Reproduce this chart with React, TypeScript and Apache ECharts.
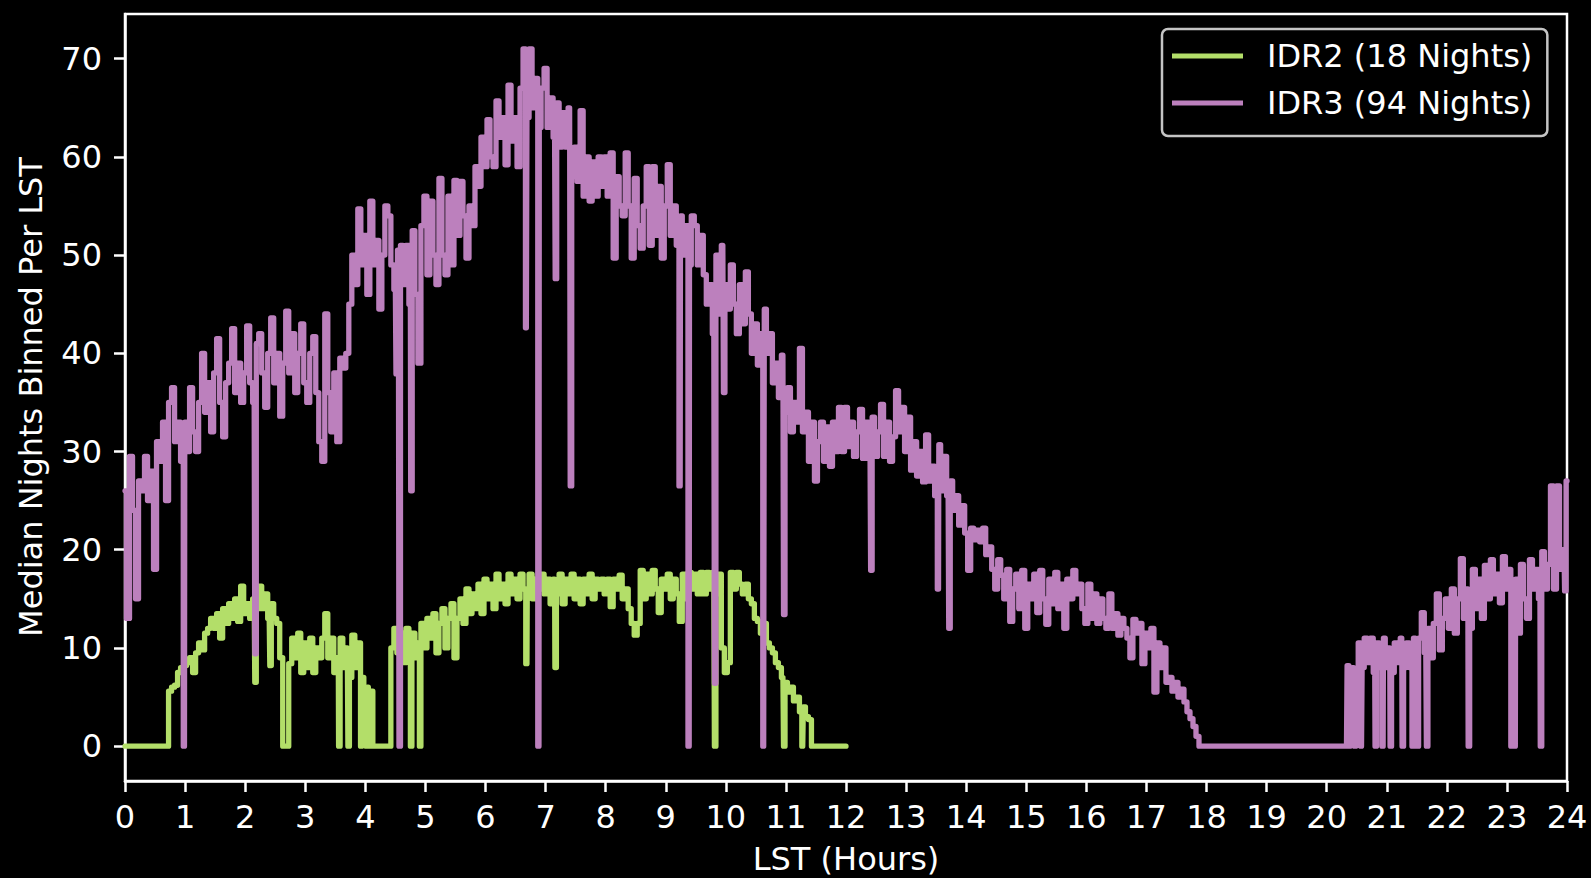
import React, { useEffect, useRef } from "react";
import * as echarts from "echarts";

// ---- Data (median nights binned per LST), sampled every 0.05 h ----
const STEP = 0.05;

const idr2Hours00to04 = [
  0, 0, 0, 0, 0, 0, 0, 0, 0, 0, 0, 0, 0, 0, 0, 5.6, 6, 6.2, 7.5, 8,
  8.2, 8.5, 9, 7.5, 9.5, 10.5, 9.8, 11.5, 12, 13, 12, 13.5, 11, 14, 12.5, 14.5, 13, 15, 12.7, 16.3,
  13.5, 14.5, 13, 15, 14, 16.3, 14, 15.5, 13, 14.5, 13, 12.5, 9, 0, 0, 8.4, 11, 9, 11.5, 7.5,
  10.5, 8, 11, 7.5, 10, 9, 11, 13.5, 9, 11, 7.5, 9, 11, 8, 10, 7, 11.3, 8, 10.5, 7,
];
const idr2Hours04to08 = [
  5.6, 6, 5.6, 0, 0, 0, 0, 0, 0, 10, 12, 9.5, 11.5, 8.5, 12, 10, 11.5, 9, 10.5, 12.5,
  10, 13, 11, 13.5, 9.5, 12.5, 14, 10, 13, 14.5, 9, 13, 15, 12.5, 16, 13.5, 15.5, 14, 16.5, 13.5,
  17, 15, 16.5, 14, 17.5, 15, 16.5, 14.5, 17.5, 15.5, 17, 15, 17.5, 16, 15.5, 17.5, 15, 17, 16, 17.5,
  15.5, 17, 14.5, 17, 15.5, 17.5, 14.5, 17, 15.5, 17.5, 15, 17, 14.5, 17, 15.5, 17.5, 15, 17, 16, 17,
];
const idr2Hours08to12 = [
  15.5, 17, 14.2, 17, 16, 17.4, 15, 16, 14, 12.5, 11.3, 12.5, 17.9, 15, 17.5, 15.5, 17.9, 16, 13.6, 17,
  16, 17.5, 15, 17, 15.5, 12.7, 17.5, 15, 17.7, 16, 17.5, 15.5, 17.7, 15.5, 17.7, 16, 17.7, 15.5, 17.5, 10,
  7.5, 8.5, 17.7, 16, 17.7, 16.5, 15.5, 16.5, 15, 14.5, 13, 12.7, 11.5, 12.5, 10.5, 10, 9.5, 8.5, 8, 7,
  6.5, 5.5, 6, 4.6, 5, 3.5, 4, 3, 2.7, 0, 0, 0, 0, 0, 0, 0, 0, 0, 0, 0,
];
const idr2End: [number, number] = [12, 0];
const idr2Spikes: [number, number][] = [
  [2.17, 6.5], [2.42, 8.2], [3.56, 0], [3.72, 0], [3.94, 0], [4.02, 0], [4.07, 0],
  [4.75, 0], [4.9, 0], [6.69, 8.4], [7.16, 8], [9.82, 0], [10.97, 0], [11.28, 0],
];

const idr3Hours00to04 = [
  26, 13, 29.5, 24, 15, 27, 26, 29.5, 25, 28, 18, 31, 29, 33, 25, 35, 36.5, 31, 33, 29,
  33, 30, 36.5, 32, 30, 35, 40, 34, 37, 32, 38, 41.5, 35, 31.5, 37, 39, 42.5, 36, 39, 35,
  38, 42.8, 37, 35, 41, 42, 38, 34.5, 40, 43.6, 37, 40, 33.6, 39, 44.3, 38, 42, 36, 40, 43,
  37, 35, 40, 41.7, 36, 31, 29, 44, 36, 32, 38, 31, 39.5, 38.5, 40, 45, 50, 47, 54.7, 49,
];
const idr3Hours04to08 = [
  52, 46, 55.5, 49, 51.5, 44.5, 50, 55, 54, 49, 46.5, 50.5, 51, 47, 51, 45, 52.5, 46, 39, 53,
  56, 48, 55.5, 50, 47, 57.8, 50, 48, 56, 49, 57.6, 52, 57.5, 54, 49.7, 55, 53, 59, 57, 62,
  59, 63.8, 60, 59, 65.7, 62, 64, 59.2, 67.3, 61.6, 64, 59, 67, 71, 64, 71, 65, 68, 63, 67,
  69, 63, 66, 62, 65.5, 61, 64.5, 61, 65, 58, 61, 57.5, 64.7, 56, 60, 55.5, 59.5, 56, 60, 57,
];
const idr3Hours08to12 = [
  60, 56, 60.4, 49.7, 58, 55, 54, 60.4, 55, 49.7, 57.8, 53, 50.7, 55, 59, 51, 59, 52, 57, 49.7,
  55, 59.2, 52, 55, 51, 54, 50, 53, 49, 54, 53, 49, 52, 48, 45, 47, 42, 50, 44, 51,
  47, 44.5, 49, 45, 42, 47, 43, 48.3, 44, 40, 43, 38.8, 42, 44.5, 40, 42, 37, 39, 35.5, 39.8,
  34, 36.5, 32, 35, 33, 40.5, 32, 34, 29, 33, 27, 31, 33, 29, 32.5, 28.5, 33, 30, 34.5, 30,
];
const idr3Hours12to16 = [
  34.5, 30.5, 33, 29.5, 32, 34.3, 29.3, 33, 30, 33.5, 29.5, 32, 34.8, 29.5, 33, 29, 31.5, 36.2, 32, 34.5,
  30, 33.5, 28.1, 31, 27.5, 30, 26.9, 31.7, 27, 28.5, 25.5, 30.7, 26, 29.5, 25.5, 27, 24, 25.5, 22.5, 24.5,
  21.7, 17.9, 22.2, 21, 22, 20.8, 22.2, 19.5, 20.3, 18, 16, 19, 17.4, 15, 18, 12.7, 16, 17.5, 14, 17.9,
  12, 16.5, 15, 17.5, 13.6, 17.9, 15, 12.4, 17, 14.5, 17.7, 14, 16.5, 12, 17, 15, 17.9, 15.5, 16.5, 14,
];
const idr3Hours16to20 = [
  12.5, 16.5, 13, 15.5, 12.5, 15, 13, 12, 15.5, 12, 13.5, 11.3, 13, 12, 11, 9, 12.9, 11.5, 12.5, 8.4,
  11.5, 10, 12, 5.5, 10.5, 8, 10, 6.5, 7, 5.6, 6.5, 5, 5.8, 4.5, 3.5, 2.8, 2, 1, 0, 0,
  0, 0, 0, 0, 0, 0, 0, 0, 0, 0, 0, 0, 0, 0, 0, 0, 0, 0, 0, 0,
  0, 0, 0, 0, 0, 0, 0, 0, 0, 0, 0, 0, 0, 0, 0, 0, 0, 0, 0, 0,
];
const idr3Hours20to24 = [
  0, 0, 0, 0, 0, 0, 0, 8.2, 7, 8, 7.5, 10.5, 8, 11, 8.5, 11, 7.5, 10.5, 8, 11,
  8, 10, 7.5, 10.5, 8.5, 11, 8, 10.5, 8, 11, 7.5, 11, 13.6, 9.5, 12, 9, 12.5, 15.5, 9.8, 13,
  15, 12, 16, 11.5, 15, 19.1, 13, 16, 12, 18, 14, 17, 13, 18.4, 15, 19, 15.5, 17.5, 14.6, 19.3,
  16, 18, 15, 17, 11.5, 18.5, 15, 13, 19, 16, 18, 15, 19.8, 16, 18.5, 26.5, 16, 26.5, 18, 20,
];
const idr3End: [number, number] = [24, 27];
const idr3Spikes: [number, number][] = [
  [0.99, 0], [2.17, 9.4], [4.52, 37.9], [4.57, 0], [4.76, 26], [6.68, 42.6], [6.89, 0],
  [7.17, 47.6], [7.42, 26.5], [9.24, 26.5], [9.39, 0], [9.82, 6.4], [9.97, 36], [10.63, 0],
  [10.97, 13.4], [12.42, 17.9], [13.54, 16], [13.72, 12], [20.33, 0], [20.39, 0], [20.47, 0],
  [20.58, 0], [20.81, 0], [20.94, 0], [21.06, 0], [21.26, 0], [21.44, 0], [21.51, 0],
  [21.67, 0], [22.36, 0], [23.08, 0], [23.14, 0], [23.56, 0], [23.97, 15.8],
];

const yTicks = [0, 10, 20, 30, 40, 50, 60, 70];
const seriesNames = ["IDR2 (18 Nights)", "IDR3 (94 Nights)"];

// ---- helpers ----
function expand(start: number, values: number[]): [number, number][] {
  return values.map((v, i) => [Math.round((start + i * STEP) * 100) / 100, v] as [number, number]);
}
function assemble(blocks: [number, number[]][], end: [number, number], spikes: [number, number][]) {
  const pts: [number, number][] = [];
  blocks.forEach(([s, vals]) => pts.push(...expand(s, vals)));
  pts.push(end);
  pts.push(...spikes);
  return pts.sort((a, b) => a[0] - b[0]);
}

const FONT = "'DejaVu Sans', 'Liberation Sans', sans-serif";

export default function App() {
  const ref = useRef<HTMLDivElement>(null);
  useEffect(() => {
    if (!ref.current) return;
    const chart = echarts.init(ref.current, undefined, { renderer: "svg" });
    const idr2 = assemble(
      [[0, idr2Hours00to04], [4, idr2Hours04to08], [8, idr2Hours08to12]],
      idr2End,
      idr2Spikes
    );
    const idr3 = assemble(
      [
        [0, idr3Hours00to04], [4, idr3Hours04to08], [8, idr3Hours08to12],
        [12, idr3Hours12to16], [16, idr3Hours16to20], [20, idr3Hours20to24],
      ],
      idr3End,
      idr3Spikes
    );
    const axisCommon = {
      axisLine: { show: true, onZero: false, lineStyle: { color: "#ffffff", width: 2.5 } },
      axisTick: { show: true, inside: false, length: 11, lineStyle: { color: "#ffffff", width: 2.5 } },
      splitLine: { show: false },
    };
    chart.setOption({
      animation: false,
      backgroundColor: "#000000",
      textStyle: { fontFamily: FONT },
      grid: {
        left: 125,
        right: 24,
        top: 14,
        bottom: 97,
        show: true,
        borderColor: "#ffffff",
        borderWidth: 2.5,
        backgroundColor: "transparent",
      },
      legend: {
        orient: "vertical",
        left: 1162,
        top: 29,
        padding: [11, 15, 17, 10],
        itemGap: 15,
        itemWidth: 71,
        itemHeight: 5,
        icon: "rect",
        backgroundColor: "rgba(0,0,0,0.8)",
        borderColor: "#c4c4c4",
        borderWidth: 2.5,
        borderRadius: 6,
        data: seriesNames,
        textStyle: {
          color: "#ffffff",
          fontSize: 32,
          lineHeight: 32,
          fontFamily: FONT,
          padding: [0, 0, 0, 19],
        },
      },
      xAxis: {
        type: "value",
        min: 0,
        max: 24,
        interval: 1,
        ...axisCommon,
        axisLabel: {
          color: "#ffffff",
          fontSize: 32,
          fontFamily: FONT,
          margin: 20,
          showMinLabel: true,
          showMaxLabel: true,
        },
      },
      yAxis: {
        type: "value",
        min: -3.55,
        max: 74.55,
        ...axisCommon,
        axisTick: { ...axisCommon.axisTick, customValues: yTicks },
        axisLabel: {
          color: "#ffffff",
          fontSize: 32,
          fontFamily: FONT,
          margin: 23,
          customValues: yTicks,
        },
      },
      graphic: [
        {
          type: "text",
          x: 846,
          y: 859,
          style: {
            text: "LST (Hours)",
            fill: "#ffffff",
            fontSize: 32,
            lineHeight: 32,
            fontFamily: FONT,
            textAlign: "center",
            textVerticalAlign: "middle",
          },
        },
        {
          type: "text",
          x: 31,
          y: 397,
          rotation: Math.PI / 2,
          style: {
            text: "Median Nights Binned Per LST",
            fill: "#ffffff",
            fontSize: 32,
            fontFamily: FONT,
            textAlign: "center",
            textVerticalAlign: "middle",
          },
        },
      ],
      series: [
        {
          name: seriesNames[0],
          type: "line",
          step: "middle",
          data: idr2,
          showSymbol: false,
          symbol: "none",
          color: "#b3de69",
          lineStyle: { color: "#b3de69", width: 5.3, join: "round", cap: "round" },
          z: 2,
        },
        {
          name: seriesNames[1],
          type: "line",
          step: "middle",
          data: idr3,
          showSymbol: false,
          symbol: "none",
          color: "#bc80bd",
          lineStyle: { color: "#bc80bd", width: 5.3, join: "round", cap: "round" },
          z: 3,
        },
      ],
    });
    return () => chart.dispose();
  }, []);
  return (
    <div
      ref={ref}
      style={{ position: "fixed", left: 0, top: 0, width: 1591, height: 878, background: "#000" }}
    />
  );
}
